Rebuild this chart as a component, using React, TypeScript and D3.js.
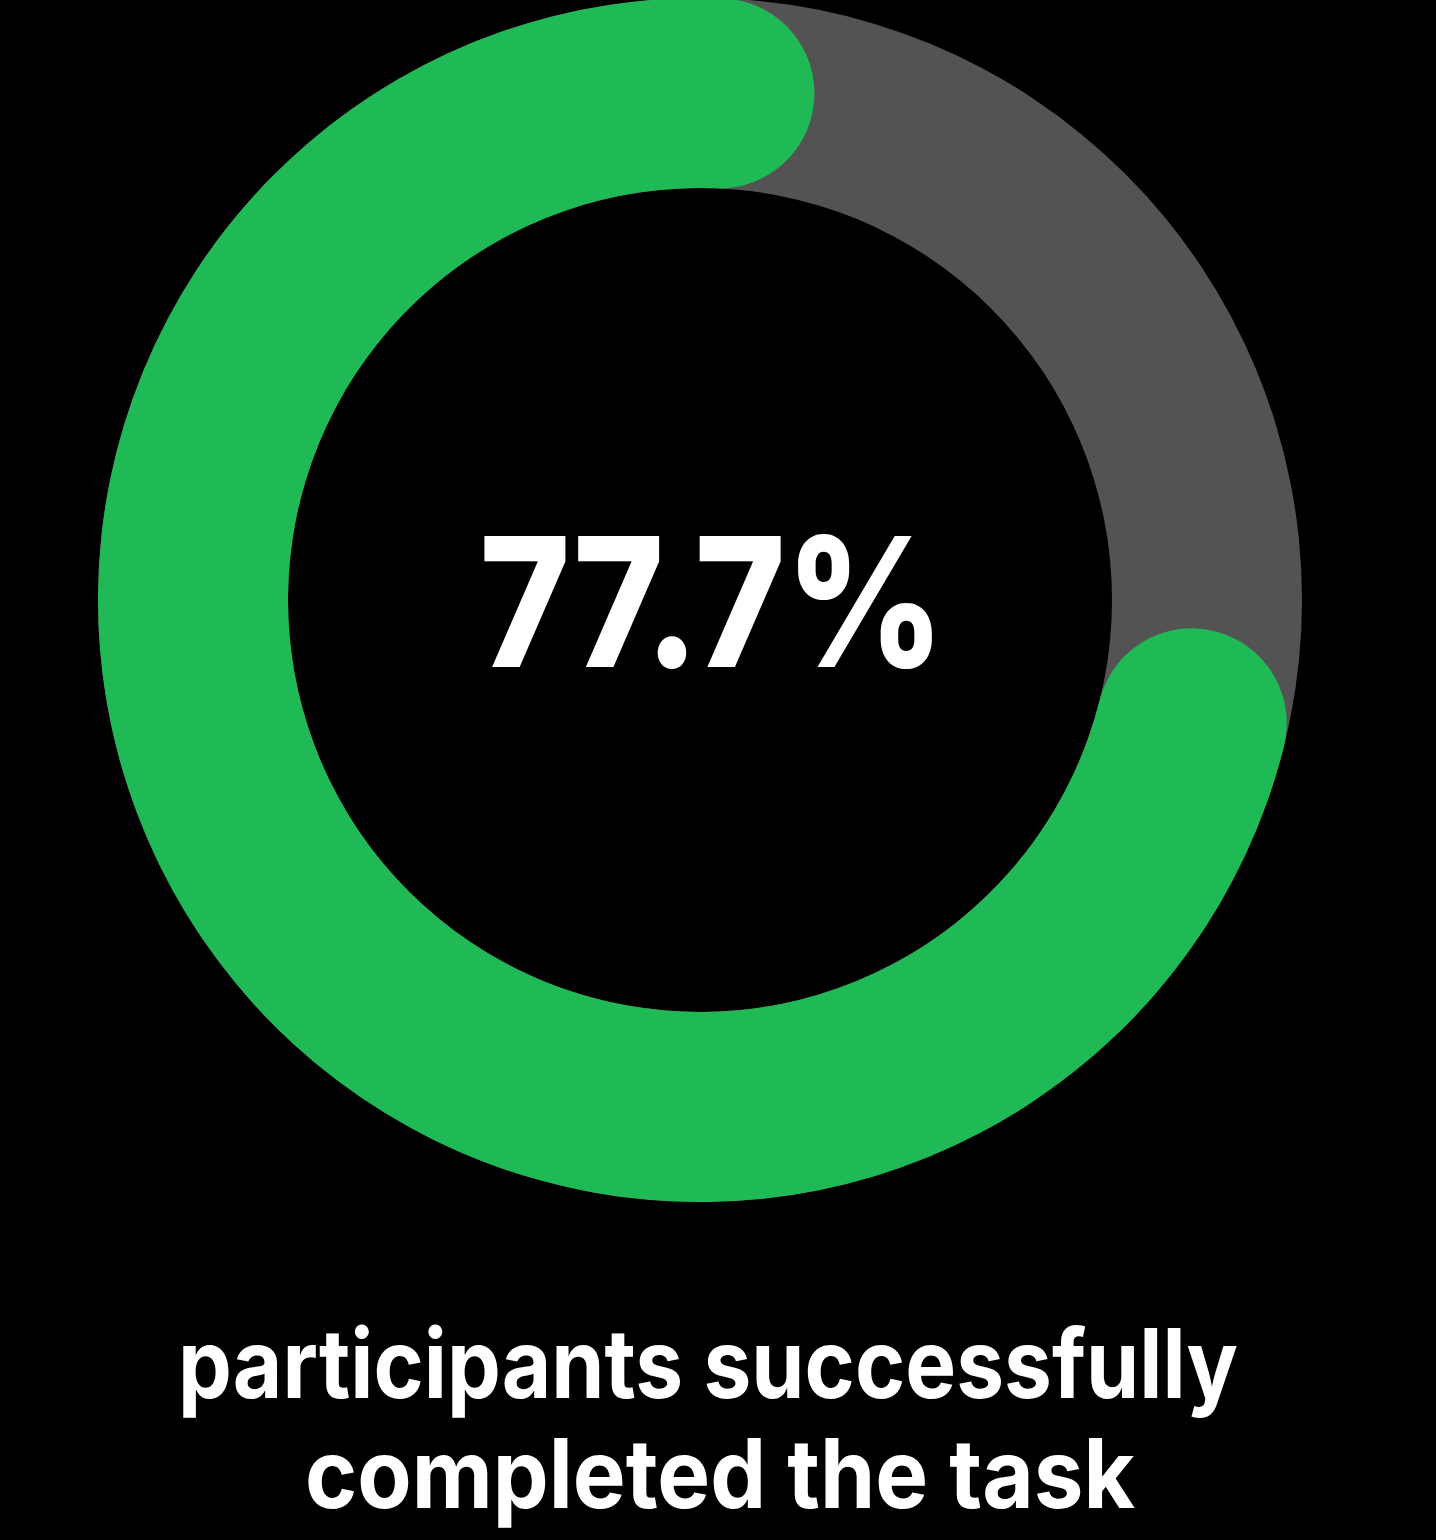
import React, { useEffect, useRef } from "react";
import * as d3 from "d3";

// chart values
const categories = ["completed", "not completed"];
const shares = [77.7, 22.3];
const headline = "77.7%";
const captionLines = ["participants successfully", "completed the task"];
const colors = ["#1fb955", "#535353"];

const W = 1436;
const H = 1540;

export default function App() {
  const ref = useRef<SVGSVGElement>(null);

  useEffect(() => {
    const svg = d3.select(ref.current);
    svg.selectAll("*").remove();

    const cx = 700, cy = 600;
    const outer = 602, inner = 412;

    svg.append("rect").attr("width", W).attr("height", H).attr("fill", "#000");

    const g = svg.append("g").attr("transform", `translate(${cx},${cy})`);

    const angle = d3.scaleLinear().domain([0, 100]).range([0, 2 * Math.PI]);
    const endA = (13 * Math.PI) / 180;

    const arc = d3.arc<any>().innerRadius(inner).outerRadius(outer);

    // grey track (full ring)
    g.append("path")
      .attr("d", arc({ startAngle: 0, endAngle: angle(100) }) as string)
      .attr("fill", colors[1]);

    // green progress with round ends
    g.append("path")
      .attr(
        "d",
        arc.cornerRadius((outer - inner) / 2)({
          startAngle: endA - angle(shares[0]),
          endAngle: endA,
        }) as string
      )
      .attr("fill", colors[0])
      .append("title")
      .text(categories[0]);

    const font = "Inter, 'DejaVu Sans', sans-serif";

    // fit a text to a given width by scaling it horizontally around its centre
    const fitText = (t: string, x: number, y: number, size: number, weight: number, width: number) => {
      const node = svg.append("text")
        .attr("text-anchor", "middle")
        .attr("font-family", font)
        .attr("font-weight", weight)
        .attr("font-size", size)
        .attr("fill", "#fff")
        .text(t);
      const w0 = (node.node() as SVGTextElement).getComputedTextLength() || width;
      node.attr("transform", `translate(${x},${y}) scale(${width / w0},1)`);
    };

    fitText(headline, 712, 667, 180, 800, 465);

    const lineY = [1398, 1508];
    const lineX = [708, 720];
    const lineW = [1060, 830];
    captionLines.forEach((t, i) => fitText(t, lineX[i], lineY[i], 96, 700, lineW[i]));
  }, []);

  return (
    <svg
      ref={ref}
      width={W}
      height={H}
      style={{ position: "absolute", left: 0, top: 0, display: "block" }}
    />
  );
}
